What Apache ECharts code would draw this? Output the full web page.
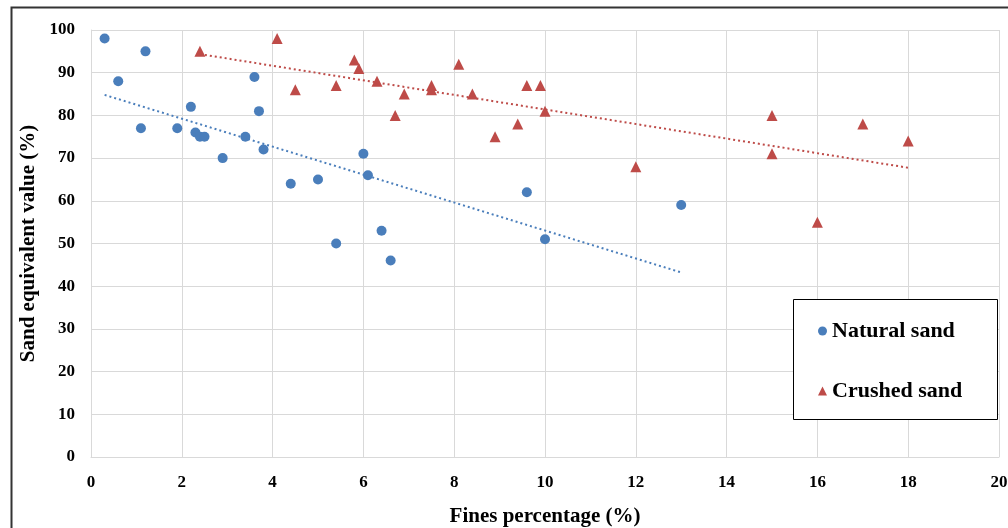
<!DOCTYPE html>
<html>
<head>
<meta charset="utf-8">
<script src="https://cdn.jsdelivr.net/npm/echarts@6/dist/echarts.min.js"></script>
<style>
html,body{margin:0;padding:0;background:#fff;}
#c{width:1008px;height:528px;}
</style>
</head>
<body>
<div id="c"></div>
<script>
// Natural sand: [fines %, sand equivalent %]
const naturalX = [0.3, 1.2, 0.6, 2.2, 3.6, 3.7, 1.1, 1.9, 2.3, 2.4, 2.5, 3.4, 3.8, 2.9, 6.0, 6.1, 4.4, 5.0, 5.4, 6.4, 6.6, 9.6, 10.0, 13.0];
const naturalY = [98, 95, 88, 82, 89, 81, 77, 77, 76, 75, 75, 75, 72, 70, 71, 66, 64, 65, 50, 53, 46, 62, 51, 59];
// Crushed sand
const crushedX = [2.4, 4.1, 4.5, 5.4, 5.8, 5.9, 6.3, 6.7, 6.9, 7.5, 7.5, 8.1, 8.4, 8.9, 9.4, 9.6, 9.9, 10.0, 12.0, 15.0, 15.0, 16.0, 17.0, 18.0];
const crushedY = [95, 98, 86, 87, 93, 91, 88, 80, 85, 87, 86, 92, 85, 75, 78, 87, 87, 81, 68, 80, 71, 55, 78, 74];

const seriesNames = ['Natural sand', 'Crushed sand'];
const xTitle = 'Fines percentage (%)';
const yTitle = 'Sand equivalent value (%)';

function pairs(xs, ys){ return xs.map((x,i)=>[x, ys[i]]); }
function trend(xs, ys){
  const n = xs.length;
  let sx=0, sy=0, sxx=0, sxy=0;
  for(let i=0;i<n;i++){ sx+=xs[i]; sy+=ys[i]; sxx+=xs[i]*xs[i]; sxy+=xs[i]*ys[i]; }
  const b = (n*sxy - sx*sy)/(n*sxx - sx*sx);
  const a = (sy - b*sx)/n;
  const x0 = Math.min(...xs), x1 = Math.max(...xs);
  return [[x0, a+b*x0],[x1, a+b*x1]];
}

const BLUE = '#4a7ebb', RED = '#be4b48';
const FONT = '"Liberation Serif", "Times New Roman", serif';

const chart = echarts.init(document.getElementById('c'));
chart.setOption({
  animation: false,
  backgroundColor: '#fff',
  grid: { left: 91, right: 9, top: 30, bottom: 71, containLabel: false, outerBoundsMode: 'none' },
  xAxis: {
    type: 'value', min: 0, max: 20, interval: 2,
    name: xTitle, nameLocation: 'middle', nameGap: 49,
    nameTextStyle: { fontFamily: FONT, fontWeight: 'bold', fontSize: 21, color: '#000' },
    axisLine: { show: true, lineStyle: { color: '#d9d9d9', width: 1 } },
    axisTick: { show: false },
    axisLabel: { fontFamily: FONT, fontWeight: 'bold', fontSize: 17, color: '#000', margin: 17 },
    splitLine: { show: true, lineStyle: { color: '#d9d9d9', width: 1 } }
  },
  yAxis: {
    type: 'value', min: 0, max: 100, interval: 10,
    name: yTitle, nameLocation: 'middle', nameGap: 45,
    nameTextStyle: { fontFamily: FONT, fontWeight: 'bold', fontSize: 21, color: '#000' },
    axisLine: { show: true, lineStyle: { color: '#d9d9d9', width: 1 } },
    axisTick: { show: false },
    axisLabel: { fontFamily: FONT, fontWeight: 'bold', fontSize: 17, color: '#000', margin: 16 },
    splitLine: { show: true, lineStyle: { color: '#d9d9d9', width: 1 } }
  },
  legend: {
    orient: 'vertical', left: 813, top: 315, itemGap: 38, itemWidth: 9, itemHeight: 9,
    textStyle: { fontFamily: FONT, fontWeight: 'bold', fontSize: 22, color: '#000' },
    data: [
      { name: seriesNames[0], icon: 'circle' },
      { name: seriesNames[1], icon: 'triangle' }
    ],
    z: 20
  },
  graphic: [
    { type: 'rect', left: 9, top: 5, shape: { width: 1010, height: 530 },
      style: { fill: 'none', stroke: '#333', lineWidth: 2 }, z: 100, silent: true },
    { type: 'rect', left: 793, top: 299, shape: { width: 204, height: 120 },
      style: { fill: '#fff', stroke: '#000', lineWidth: 1 }, z: 10, silent: true }
  ],
  series: [
    { name: seriesNames[0], type: 'scatter', symbol: 'circle', symbolSize: 10,
      itemStyle: { color: BLUE, opacity: 1 }, data: pairs(naturalX, naturalY), z: 5 },
    { name: seriesNames[1], type: 'scatter', symbol: 'triangle', symbolSize: 11,
      itemStyle: { color: RED, opacity: 1 }, data: pairs(crushedX, crushedY), z: 5 },
    { name: 'trendN', type: 'line', data: trend(naturalX, naturalY), showSymbol: false, symbol: 'none',
      lineStyle: { color: BLUE, width: 2, type: [2, 3] }, z: 4, silent: true },
    { name: 'trendC', type: 'line', data: trend(crushedX, crushedY), showSymbol: false, symbol: 'none',
      lineStyle: { color: RED, width: 2, type: [2, 3] }, z: 4, silent: true }
  ]
});
</script>
</body>
</html>
